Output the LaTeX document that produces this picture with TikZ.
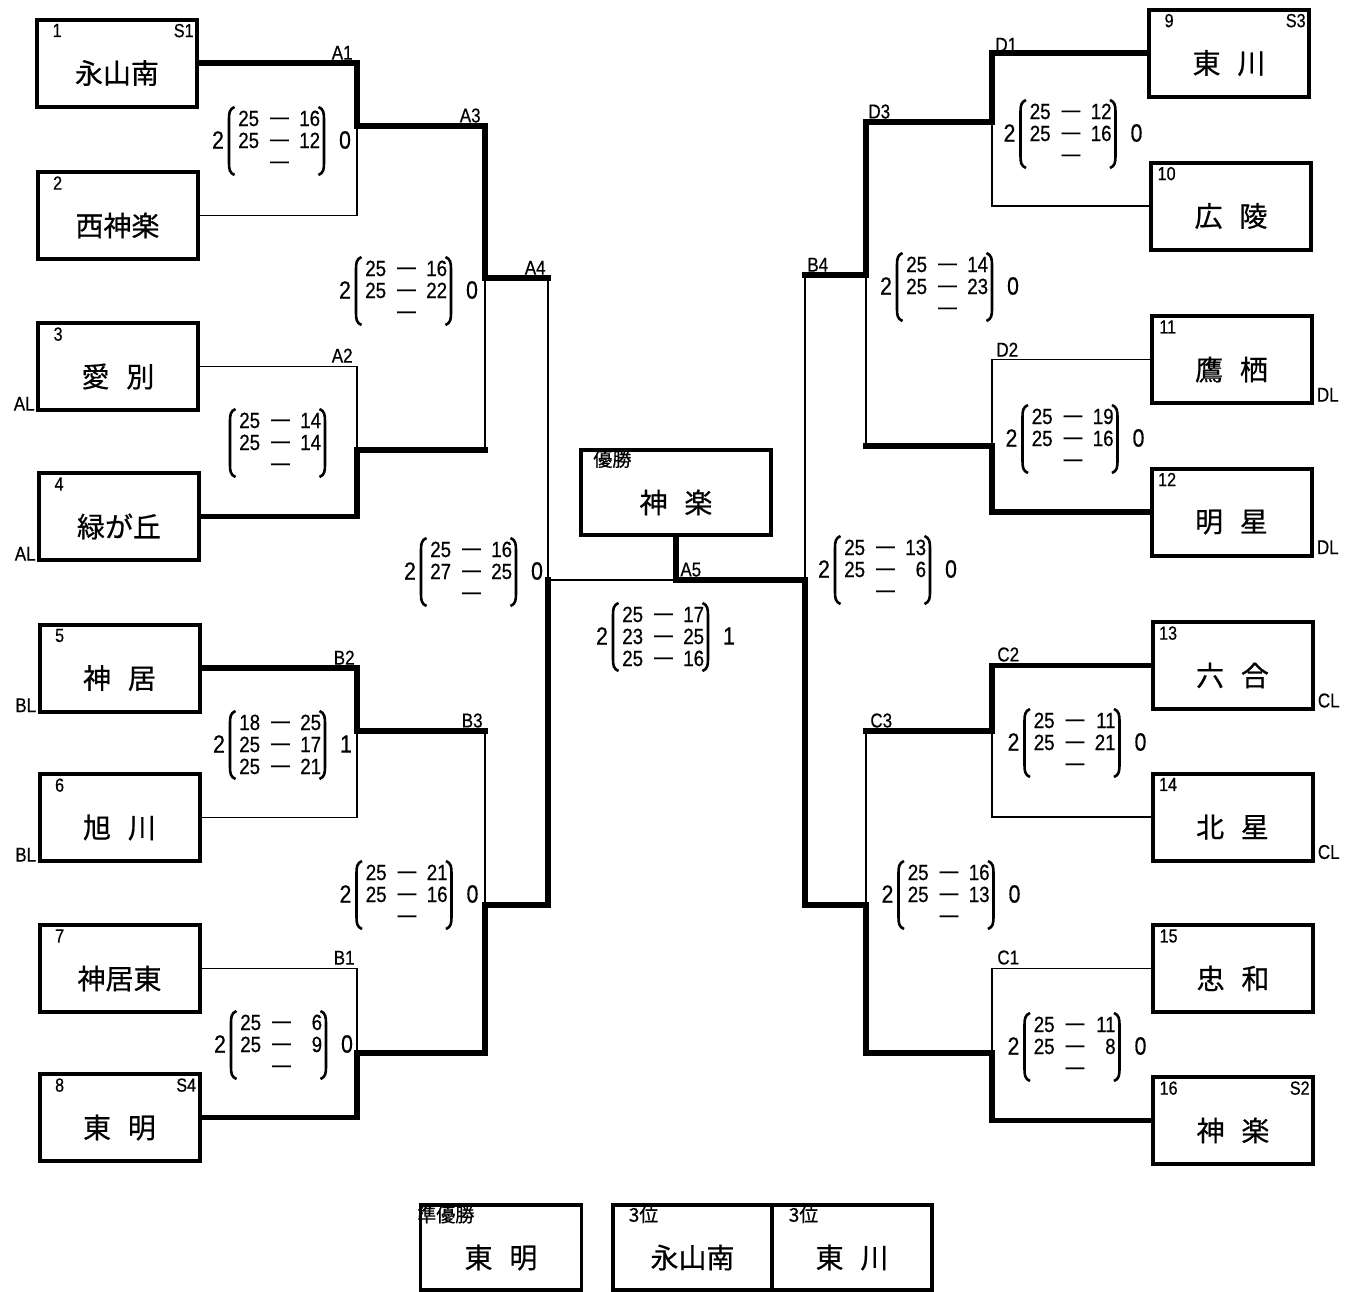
\documentclass[tikz,border=0pt]{standalone}
\usepackage{fontspec}
\setmainfont[FakeStretch=0.85]{Liberation Sans}
\newfontfamily\jpf[FakeBold=0.6]{Noto Sans CJK JP}
\newfontfamily\numf[FakeStretch=0.85,FakeBold=0.5]{Liberation Sans}
\tikzset{
 team/.style={draw, line width=2pt, minimum width=80pt, minimum height=43.5pt, inner sep=0pt},
 resbox/.style={draw, line width=1.6pt, minimum height=42.5pt, inner sep=0pt},
 win/.style={line width=2.7pt, line cap=rect},
 lose/.style={line width=0.8pt},
 tname/.style={font=\jpf\fontsize{14}{14}\selectfont, inner sep=0pt},
 num/.style={font=\numf\fontsize{9.5}{10}\selectfont, inner sep=0pt},
 jlab/.style={font=\numf\fontsize{10}{10}\selectfont, inner sep=0pt},
 sc/.style={font=\numf\fontsize{11}{11}\selectfont, inner sep=0pt},
 setn/.style={font=\numf\fontsize{12.5}{12.5}\selectfont, inner sep=0pt},
 paren/.style={line width=1.3pt},
 small/.style={font=\jpf\fontsize{9.5}{9.5}\selectfont, inner sep=0pt},
}
\newcommand{\teambox}[6]{%
 \node[team] (#1) at (#2,#3) {};
 \node[num, anchor=north east] (#1-n) at ([shift={(27,6)}]#1.north west) {#4};
 \node[num, anchor=north east] (#1-s) at ([shift={(-5,6)}]#1.north east) {#5};
 \node[tname] (#1-t) at ([shift={(0,10)}]#1.center) {#6};
}
\newcommand{\scoreblk}[9]{%
 \draw[paren] (#2-42,#3-33) .. controls (#2-47,#3-31) and (#2-47.5,#3-27) .. (#2-47.5,#3-21) -- (#2-47.5,#3+23) .. controls (#2-47.5,#3+29) and (#2-47,#3+33) .. (#2-42,#3+35);
 \draw[paren] (#2+42,#3-33) .. controls (#2+47,#3-31) and (#2+47.5,#3-27) .. (#2+47.5,#3-21) -- (#2+47.5,#3+23) .. controls (#2+47.5,#3+29) and (#2+47,#3+33) .. (#2+42,#3+35);
 \node[sc, anchor=base east] (#1a) at (#2-17,#3-14) {#4};
 \node[sc, anchor=base] (#1b) at (#2+3,#3-16) {—};
 \node[sc, anchor=base east] (#1c) at (#2+44,#3-14) {#5};
 \node[sc, anchor=base east] (#1d) at (#2-17,#3+8) {#6};
 \node[sc, anchor=base] (#1e) at (#2+3,#3+6) {—};
 \node[sc, anchor=base east] (#1f) at (#2+44,#3+8) {#7};
 \node[sc, anchor=base east] (#1g) at (#2-17,#3+30) {#8};
 \node[sc, anchor=base] (#1h) at (#2+3,#3+28) {—};
 \node[sc, anchor=base east] (#1i) at (#2+44,#3+30) {#9};
}
\newcommand{\setsblk}[5]{%
 \node[setn] (#1L) at (#2-58.5,#3) {#4};
 \node[setn] (#1R) at (#2+68.5,#3) {#5};
}
\begin{document}
\begin{tikzpicture}[x=0.5pt, y=-0.5pt]
\useasboundingbox (0,0) rectangle (1362,1292);
% teams left
\teambox{b1}{117}{63}{1}{S1}{永山南}
\teambox{b2}{117.5}{215.5}{2}{}{西神楽}
\teambox{b3}{118}{366.5}{3}{}{愛\hspace{0.6em}別}
\teambox{b4}{119}{516.5}{4}{}{緑が丘}
\teambox{b5}{119.5}{668}{5}{}{神\hspace{0.6em}居}
\teambox{b6}{119.5}{817.5}{6}{}{旭\hspace{0.6em}川}
\teambox{b7}{119.5}{968.5}{7}{}{神居東}
\teambox{b8}{119.5}{1117.5}{8}{S4}{東\hspace{0.6em}明}
% teams right
\teambox{b9}{1229}{53}{9}{S3}{東\hspace{0.6em}川}
\teambox{b10}{1231}{206}{10}{}{広\hspace{0.6em}陵}
\teambox{b11}{1231.5}{359.5}{11}{}{鷹\hspace{0.6em}栖}
\teambox{b12}{1231.5}{512}{12}{}{明\hspace{0.6em}星}
\teambox{b13}{1232.5}{665.5}{13}{}{六\hspace{0.6em}合}
\teambox{b14}{1232.5}{817}{14}{}{北\hspace{0.6em}星}
\teambox{b15}{1233}{968.5}{15}{}{忠\hspace{0.6em}和}
\teambox{b16}{1233}{1120.5}{16}{S2}{神\hspace{0.6em}楽}
% side labels
\node[jlab, anchor=south east] (al1) at ([shift={(-1,-1)}]b3.south west) {AL};
\node[jlab, anchor=south east] (al2) at ([shift={(-1,-1)}]b4.south west) {AL};
\node[jlab, anchor=south east] (bl1) at ([shift={(-1,-1)}]b5.south west) {BL};
\node[jlab, anchor=south east] (bl2) at ([shift={(-1,-1)}]b6.south west) {BL};
\node[jlab, anchor=south west] (dl1) at ([shift={(3,-3)}]b11.south east) {DL};
\node[jlab, anchor=south west] (dl2) at ([shift={(3,-3)}]b12.south east) {DL};
\node[jlab, anchor=south west] (cl1) at ([shift={(3,-3)}]b13.south east) {CL};
\node[jlab, anchor=south west] (cl2) at ([shift={(3,-3)}]b14.south east) {CL};
% champion and results
\node[team, minimum width=95pt, minimum height=42.5pt] (champ) at (676,492.5) {};
\node[tname] (champ-t) at ([shift={(0,10)}]champ.center) {神\hspace{0.6em}楽};
\node[small, anchor=north west] (champ-l) at ([shift={(14,2)}]champ.north west) {優勝};
\node[resbox, minimum width=80.5pt] (ru) at (501,1247.5) {};
\node[tname] (ru-t) at ([shift={(0,10)}]ru.center) {東\hspace{0.6em}明};
\node[small, anchor=north west] (ru-l) at ([shift={(-2,2)}]ru.north west) {準優勝};
\node[resbox, minimum width=79.5pt] (t1) at (692.5,1247.5) {};
\node[tname] (t1-t) at ([shift={(0,10)}]t1.center) {永山南};
\node[small, anchor=north west] (t1-l) at ([shift={(17,2)}]t1.north west) {3位};
\node[resbox, minimum width=80pt] (t2) at (852,1247.5) {};
\node[tname] (t2-t) at ([shift={(0,10)}]t2.center) {東\hspace{0.6em}川};
\node[small, anchor=north west] (t2-l) at ([shift={(18,2)}]t2.north west) {3位};
% junctions
\coordinate (jA1) at (357,126);
\coordinate (jA2) at (357,450);
\coordinate (jA3) at (485,278);
\coordinate (jB2) at (357,731);
\coordinate (jB1) at (357,1053);
\coordinate (jB3) at (485,905);
\coordinate (jA4) at (548,580);
\coordinate (jA5) at (676,580);
\coordinate (jD1) at (992,122);
\coordinate (jD2) at (992,446);
\coordinate (jD3) at (866,275);
\coordinate (jC2) at (992,731);
\coordinate (jC1) at (992,1053);
\coordinate (jC3) at (866,905);
\coordinate (jB4) at (805,580);
% left bracket
\draw[lose] (b2.east) -| (jA1);
\draw[win] (b1.east) -| (jA1);
\draw[lose] (b3.east) -| (jA2);
\draw[win] (b4.east) -| (jA2);
\draw[win] (jA1) -| (jA3);
\draw[lose] (jA2 -| jA3) -- (jA3);
\draw[win] (jA2) -- (jA2 -| jA3);
\draw[lose] (jA3 -| jA4) -- (jA4);
\draw[win] (jA3) -- (jA3 -| jA4);
\draw[lose] (b6.east) -| (jB2);
\draw[win] (b5.east) -| (jB2);
\draw[lose] (b7.east) -| (jB1);
\draw[win] (b8.east) -| (jB1);
\draw[lose] (jB2 -| jB3) -- (jB3);
\draw[win] (jB2) -- (jB2 -| jB3);
\draw[win] (jB1) -| (jB3);
\draw[win] (jB3) -| (jA4);
% final
\draw[lose] (jA4) -- (jA5);
\draw[win] (jB4) -- (jA5);
\draw[win] (champ.south) -- (jA5);
% right bracket
\draw[lose] (b10.west) -| (jD1);
\draw[win] (b9.west) -| (jD1);
\draw[lose] (b11.west) -| (jD2);
\draw[win] (b12.west) -| (jD2);
\draw[win] (jD1) -| (jD3);
\draw[lose] (jD2 -| jD3) -- (jD3);
\draw[win] (jD2) -- (jD2 -| jD3);
\draw[lose] (jD3 -| jB4) -- (jB4);
\draw[win] (jD3) -- (jD3 -| jB4);
\draw[lose] (b14.west) -| (jC2);
\draw[win] (b13.west) -| (jC2);
\draw[lose] (b15.west) -| (jC1);
\draw[win] (b16.west) -| (jC1);
\draw[lose] (jC2 -| jC3) -- (jC3);
\draw[win] (jC2) -- (jC2 -| jC3);
\draw[win] (jC1) -| (jC3);
\draw[win] (jC3) -| (jB4);
% junction labels
\node[jlab, anchor=south east] (lA1) at (353,60) {A1};
\node[jlab, anchor=south east] (lA3) at (481,123) {A3};
\node[jlab, anchor=south east] (lA4) at (546,275) {A4};
\node[jlab, anchor=south east] (lA2) at (353,363) {A2};
\node[jlab, anchor=south east] (lB2) at (355,665) {B2};
\node[jlab, anchor=south east] (lB3) at (483,728) {B3};
\node[jlab, anchor=south east] (lB1) at (355,965) {B1};
\node[jlab, anchor=south west] (lA5) at (680,577) {A5};
\node[jlab, anchor=south west] (lD1) at (995,52) {D1};
\node[jlab, anchor=south west] (lD3) at (868,119) {D3};
\node[jlab, anchor=south west] (lB4) at (807,272) {B4};
\node[jlab, anchor=south west] (lD2) at (996,357) {D2};
\node[jlab, anchor=south west] (lC2) at (997,662) {C2};
\node[jlab, anchor=south west] (lC3) at (870,728) {C3};
\node[jlab, anchor=south west] (lC1) at (997,965) {C1};
% scores
\scoreblk{sA1}{276.5}{140}{25}{16}{25}{12}{}{}
\setsblk{sA1}{276.5}{140}{2}{0}
\scoreblk{sA3}{403.5}{290}{25}{16}{25}{22}{}{}
\setsblk{sA3}{403.5}{290}{2}{0}
\scoreblk{sA2}{277.5}{442}{25}{14}{25}{14}{}{}
\scoreblk{sA4}{468.5}{571}{25}{16}{27}{25}{}{}
\setsblk{sA4}{468.5}{571}{2}{0}
\scoreblk{sA5}{660.5}{636}{25}{17}{23}{25}{25}{16}
\setsblk{sA5}{660.5}{636}{2}{1}
\scoreblk{sB2}{277.5}{744}{18}{25}{25}{17}{25}{21}
\setsblk{sB2}{277.5}{744}{2}{1}
\scoreblk{sB3}{404}{894}{25}{21}{25}{16}{}{}
\setsblk{sB3}{404}{894}{2}{0}
\scoreblk{sB1}{278.5}{1044}{25}{6}{25}{9}{}{}
\setsblk{sB1}{278.5}{1044}{2}{0}
\scoreblk{sD1}{1068}{133}{25}{12}{25}{16}{}{}
\setsblk{sD1}{1068}{133}{2}{0}
\scoreblk{sD3}{944.5}{286}{25}{14}{25}{23}{}{}
\setsblk{sD3}{944.5}{286}{2}{0}
\scoreblk{sD2}{1070}{438}{25}{19}{25}{16}{}{}
\setsblk{sD2}{1070}{438}{2}{0}
\scoreblk{sB4}{882.5}{569}{25}{13}{25}{6}{}{}
\setsblk{sB4}{882.5}{569}{2}{0}
\scoreblk{sC2}{1072}{742}{25}{11}{25}{21}{}{}
\setsblk{sC2}{1072}{742}{2}{0}
\scoreblk{sC3}{946}{894}{25}{16}{25}{13}{}{}
\setsblk{sC3}{946}{894}{2}{0}
\scoreblk{sC1}{1072}{1046}{25}{11}{25}{8}{}{}
\setsblk{sC1}{1072}{1046}{2}{0}
\end{tikzpicture}
\end{document}
